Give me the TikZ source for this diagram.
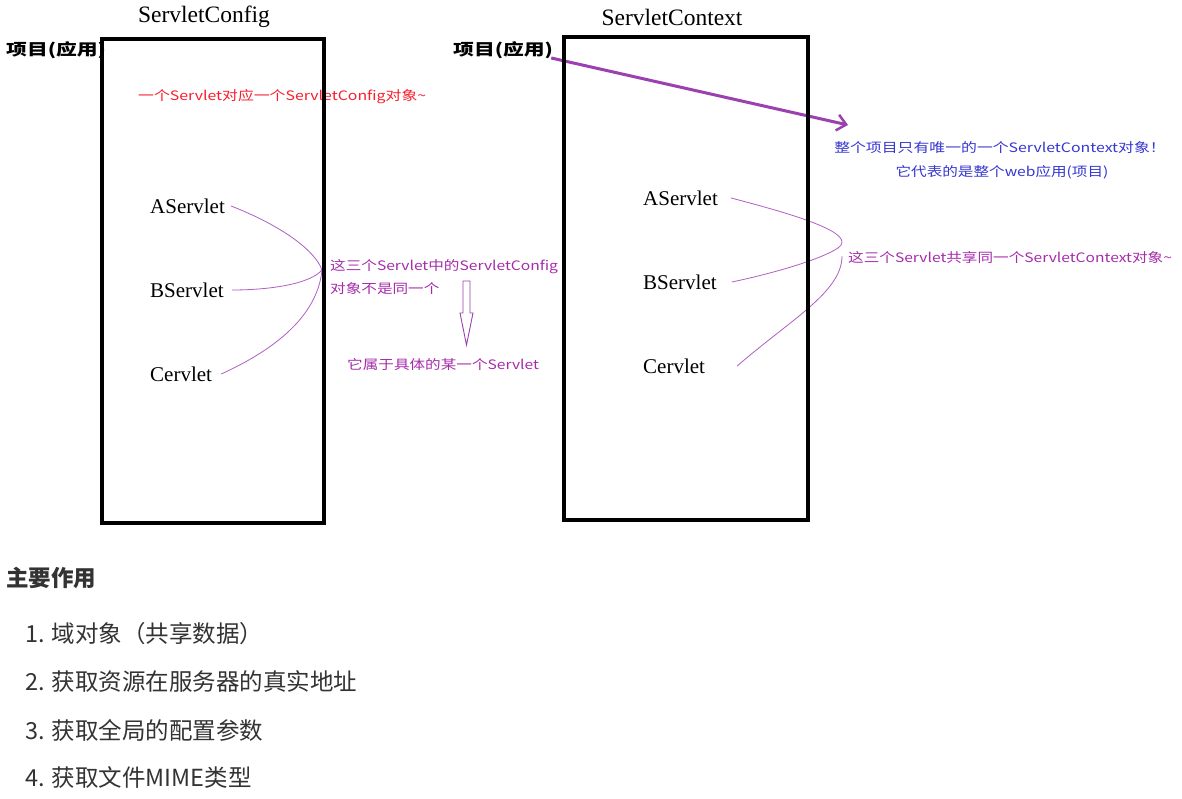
\documentclass[tikz,border=0pt]{standalone}
\usepackage{fontspec}
\setmainfont{Liberation Serif}
\newfontfamily\cjk{Noto Sans CJK SC}
\usetikzlibrary{arrows.meta}
\definecolor{pr}{RGB}{165,45,170}
\definecolor{prl}{RGB}{175,95,195}
\definecolor{pra}{RGB}{155,65,175}
\definecolor{rd}{RGB}{250,30,45}
\definecolor{bl}{RGB}{55,55,210}
\definecolor{dk}{RGB}{51,51,51}
\newcommand\sxx[1]{\scalebox{1.2}[1]{#1}}
\begin{document}
\begin{tikzpicture}[x=1pt,y=-1pt,
  title/.style={font=\fontsize{23.5}{26}\selectfont, inner sep=0},
  lbl/.style={font=\fontsize{21}{24}\selectfont, inner sep=0, anchor=west},
  note/.style={font=\cjk\fontsize{13}{15}\selectfont, inner sep=0, anchor=west},
  proj/.style={font=\cjk\bfseries\fontsize{16}{18}\selectfont, inner sep=0, anchor=west},
  frame/.style={draw=black, line width=4pt},
  link/.style={draw=prl, line width=0.8pt},
  item/.style={font=\cjk\fontsize{23.5}{27}\selectfont, text=dk, inner sep=0, anchor=west}]
\useasboundingbox[fill=white] (0,0) rectangle (1182,799);

% titles
\node[title] (t1) at (204,17) {ServletConfig};
\node[title] (t2) at (672,17) {ServletContext};

% project labels
\node[proj] (p1) at (6,50) {\scalebox{1.3}[1]{项目(应用)}};
\node[proj] (p2) at (453,50) {\scalebox{1.3}[1]{项目(应用)}};

% red note
\node[note, text=rd] (n1) at (138,97) {\scalebox{1.22}[1]{一个Servlet对应一个ServletConfig对象\textasciitilde}};

% left servlet labels
\node[lbl] (la) at (150,206) {AServlet};
\node[lbl] (lb) at (150,290) {BServlet};
\node[lbl] (lc) at (150,374) {Cervlet};

% right servlet labels
\node[lbl] (ra) at (643,198) {AServlet};
\node[lbl] (rb) at (643,282) {BServlet};
\node[lbl] (rc) at (643,366) {Cervlet};

% purple notes
\node[note, text=pr] (n2) at (330,267) {\sxx{这三个Servlet中的ServletConfig}};
\node[note, text=pr] (n3) at (330,289) {\sxx{对象不是同一个}};
\node[note, text=pr] (n4) at (347,365) {\sxx{它属于具体的某一个Servlet}};
\node[note, text=pr] (n5) at (848,258) {\sxx{这三个Servlet共享同一个ServletContext对象\textasciitilde}};

% blue notes
\node[note, anchor=center, text=bl] (b1) at (1000,148) {\scalebox{1.22}[1]{整个项目只有唯一的一个ServletContext对象！}};
\node[note, anchor=center, text=bl] (b2) at (1002,172) {\sxx{它代表的是整个web应用(项目)}};

% left links
\coordinate (jl) at (322,270);
\path[link] ([xshift=6pt]la.east) .. controls (280,225) and (315,250) .. (jl);
\path[link] ([xshift=8pt]lb.east) .. controls (270,290) and (310,284) .. (jl);
\path[link] ([xshift=9pt]lc.east) .. controls (285,345) and (318,310) .. (jl);

% right links
\path[link] ([xshift=13pt]ra.east) .. controls (800,216) and (858,234) .. (838,248)
  .. controls (820,260) and (770,274) .. ([xshift=15pt]rb.east);
\coordinate (jr) at (842,256);
\path[link] ([xshift=32pt]rc.east) .. controls (790,320) and (842,292) .. (jr);

% hollow down arrow
\draw[pra, line width=0.9pt] (463,281) -- (470,281) -- (470,313) -- (473,313) -- (466.5,345)
  -- (460,313) -- (463,313) -- cycle;

% big arrow
\coordinate (tip) at (848,125);
\draw[pra, line width=3pt, -{Straight Barb[length=9pt,width=16pt,line width=2.5pt]}] ([xshift=-2pt,yshift=-8pt]p2.east) -- (tip);

% boxes
\draw[frame] (102,39) rectangle (324,523);
\draw[frame] (564,37) rectangle (808,520);

% bottom text
\node[item, font=\cjk\bfseries\fontsize{22.5}{26}\selectfont] (h) at (6,578) {主要作用};
\node[item] (i1) at (25,634) {1. 域对象（共享数据）};
\node[item] (i2) at (25,682) {2. 获取资源在服务器的真实地址};
\node[item] (i3) at (25,730) {3. 获取全局的配置参数};
\node[item] (i4) at (25,778) {4. 获取文件MIME类型};
\end{tikzpicture}
\end{document}
